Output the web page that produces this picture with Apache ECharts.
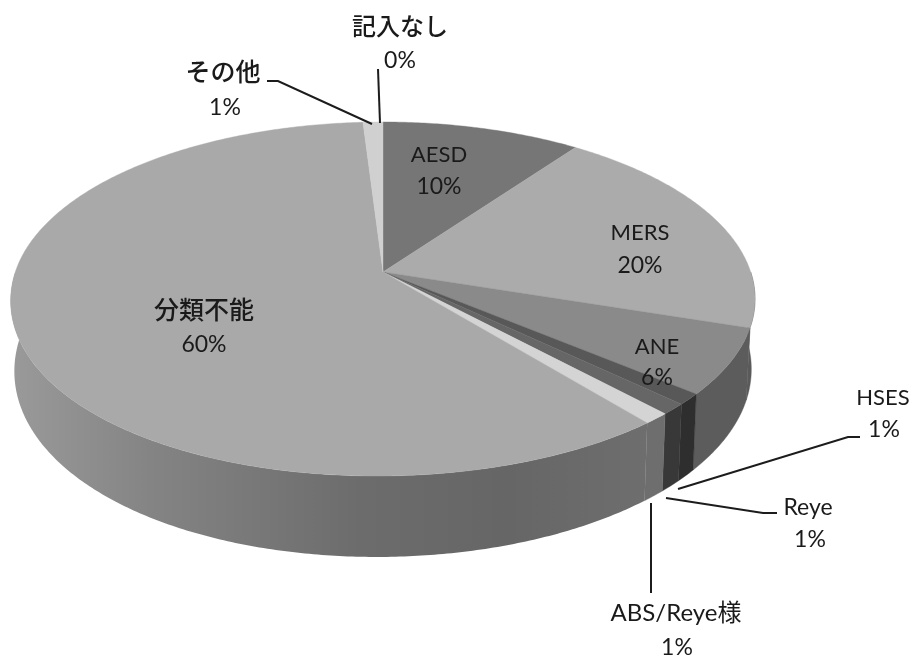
<!DOCTYPE html>
<html>
<head>
<meta charset="utf-8">
<style>html,body{margin:0;padding:0;background:#fff}#chart{width:914px;height:659px}</style>
<script src="https://cdn.jsdelivr.net/npm/echarts@6/dist/echarts.min.js"></script>
</head>
<body>
<div id="chart"></div>
<script>
// Diagnosis shares in percent, clockwise from twelve o'clock
const categories = ['AESD', 'MERS', 'ANE', 'HSES', 'Reye', 'ABS/Reye様', '分類不能', 'その他', '記入なし'];
const shares = [10, 20, 6, 1, 1, 1, 60, 1, 0];

// Slice shades
const topShades = ['#767676', '#ababab', '#8a8a8a', '#585858', '#666666', '#d4d4d4', '#a9a9a9', '#d0d0d0', '#999999'];
const wallShades = ['#666666', '#5a5a5a', '#5c5c5c', '#2e2e2e', '#383838', '#6e6e6e', null, '#888888', '#888888'];
const mainWallStops = [
  { offset: 0, color: '#9a9a9a' },
  { offset: 0.22, color: '#848484' },
  { offset: 0.55, color: '#6c6c6c' },
  { offset: 0.78, color: '#666666' },
  { offset: 1, color: '#6e6e6e' }
];

// Label placement: text centres, text sizes and leader paths
const labelLayout = {
  'AESD': { title: [439, 155], pct: [439, 187] },
  'MERS': { title: [640, 233], pct: [640, 266] },
  'ANE': { title: [657, 347], pct: [657, 378] },
  'HSES': { title: [883, 398], pct: [884, 430], leader: [[860, 437], [848, 437], [678, 489]] },
  'Reye': { title: [808, 508], pct: [810, 540], size: 23, leader: [[777, 513], [763, 513], [666, 498]] },
  'ABS/Reye様': { title: [676, 613], pct: [677, 648], size: 24, leader: [[651, 593], [651, 503]] },
  '分類不能': { title: [204, 311], pct: [204, 345], size: 25, heavy: true },
  'その他': { title: [223, 73], pct: [225, 108], size: 25, heavy: true, leader: [[267, 81], [278, 81], [372, 124]] },
  '記入なし': { title: [400, 27], pct: [400, 61], size: 24, heavy: true, leader: [[378, 69], [380, 123]] }
};

// Tilted disc projection with a little perspective
const disc = { x: 383, y: 272, rx: 367.7, ry: 172.9, persp: 0.1525, lean: 13, drop: 68.6, baseScale: 0.99 };

function rim(theta, lower) {
  const u = Math.sin(theta), v = Math.cos(theta);
  const w = 1 + disc.persp * v;
  let dx = disc.rx * u / w;
  if (v < 0) dx -= disc.lean * v * v * (1 - u) / 2;
  let dy = -disc.ry * v / w;
  if (lower) { dx *= disc.baseScale; dy += disc.drop / w; }
  return [disc.x + dx, disc.y + dy];
}

const total = shares.reduce((a, b) => a + b, 0);
const spans = [];
shares.reduce((acc, s) => {
  spans.push([acc / total * 2 * Math.PI, (acc + s) / total * 2 * Math.PI]);
  return acc + s;
}, 0);

function arc(a, b, lower) {
  const pts = [];
  const n = Math.max(2, Math.ceil((b - a) / 0.01));
  for (let i = 0; i <= n; i++) pts.push(rim(a + (b - a) * i / n, lower));
  return pts;
}

function renderWall(params) {
  const i = params.dataIndex;
  // Only the near half of the side is visible
  const a = Math.max(spans[i][0], Math.PI / 2);
  const b = Math.min(spans[i][1], Math.PI * 1.5);
  if (b <= a) return { type: 'group', children: [] };
  const pts = arc(a, b, false).concat(arc(a, b, true).reverse());
  const fill = wallShades[i] || { type: 'linear', x: 0, y: 0, x2: 1, y2: 0, colorStops: mainWallStops };
  const edge = wallShades[i] || '#777777';
  return { type: 'polygon', shape: { points: pts }, style: { fill: fill, stroke: wallShades[i] ? edge : 'none', lineWidth: 0.4 } };
}

function renderTop(params) {
  const i = params.dataIndex;
  if (shares[i] <= 0) return { type: 'group', children: [] };
  const pts = [[disc.x, disc.y]].concat(arc(spans[i][0], spans[i][1], false));
  return { type: 'polygon', shape: { points: pts }, style: { fill: topShades[i], stroke: topShades[i], lineWidth: 0.4 } };
}

const fontStack = 'Lato, "Noto Sans CJK JP", sans-serif';

function renderLabel(params) {
  const i = params.dataIndex;
  const spot = labelLayout[categories[i]];
  const kids = [
    { type: 'text', style: { text: categories[i], x: spot.title[0], y: spot.title[1], align: 'center', verticalAlign: 'middle',
        fill: '#1a1a1a', fontFamily: fontStack, fontSize: spot.size || 22, fontWeight: spot.heavy ? 500 : 400 } },
    { type: 'text', style: { text: shares[i] + '%', x: spot.pct[0], y: spot.pct[1], align: 'center', verticalAlign: 'middle',
        fill: '#1a1a1a', fontFamily: fontStack, fontSize: 23 } }
  ];
  if (spot.leader) {
    kids.push({ type: 'polyline', shape: { points: spot.leader }, style: { fill: 'none', stroke: '#1c1c1c', lineWidth: 2 } });
  }
  return { type: 'group', children: kids };
}

const items = categories.map((name, i) => ({ name: name, value: shares[i] }));

const chart = echarts.init(document.getElementById('chart'), null, { renderer: 'canvas' });
chart.setOption({
  animation: false,
  backgroundColor: '#ffffff',
  series: [
    { type: 'custom', name: 'side', coordinateSystem: 'none', z: 1, silent: true, renderItem: renderWall, data: items },
    { type: 'custom', name: 'face', coordinateSystem: 'none', z: 2, silent: true, renderItem: renderTop, data: items },
    { type: 'custom', name: 'labels', coordinateSystem: 'none', z: 3, silent: true, renderItem: renderLabel, data: items }
  ]
});
</script>
</body>
</html>
